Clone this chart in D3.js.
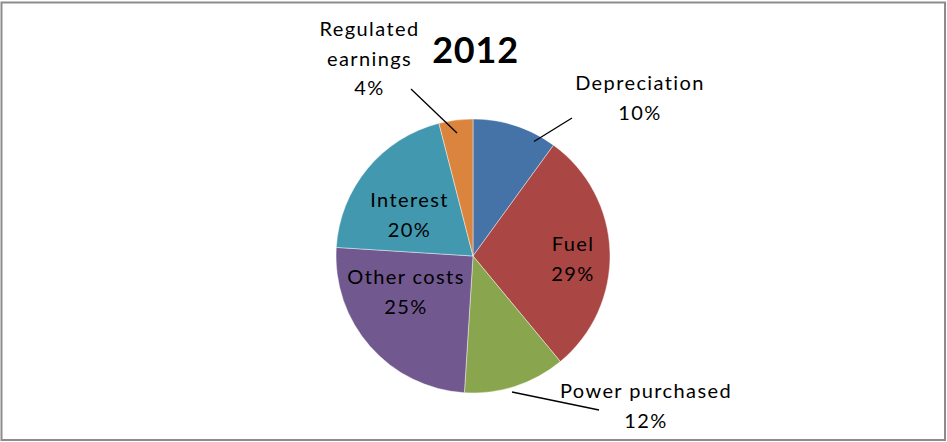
<!DOCTYPE html>
<html>
<head>
<meta charset="utf-8">
<script src="https://cdn.jsdelivr.net/npm/d3@7"></script>
<style>
  html, body { margin: 0; padding: 0; background: #fff; }
  svg { display: block; }
  .lbl { font-family: Lato, "Open Sans", sans-serif; font-size: 20px; fill: #000; letter-spacing: 1.4px; }
  .title { font-family: Lato, "Open Sans", sans-serif; font-size: 36px; font-weight: bold; fill: #000; letter-spacing: 0.8px; }
</style>
</head>
<body>
<script>
// Cost shares for 2012, clockwise from 12 o'clock
const categories = ["Depreciation", "Fuel", "Power purchased", "Other costs", "Interest", "Regulated earnings"];
const shares = [10, 29, 12, 25, 20, 4];
const sliceColors = ["#4572A7", "#AA4643", "#89A54E", "#71588F", "#4198AF", "#DB843D"];
const labelLines = [["Depreciation"], ["Fuel"], ["Power purchased"], ["Other costs"], ["Interest"], ["Regulated", "earnings"]];
const chartTitle = "2012";

// Label placement: text anchor offset from pie centre (px) and optional leader line
const labelLayout = [
  { dx: 167, dy: -166, leader: [[99, -138], [61, -114.5]] },
  { dx: 100, dy: -5 },
  { dx: 173, dy: 142, leader: [[39, 136], [126, 154]] },
  { dx: -67, dy: 28 },
  { dx: -63.5, dy: -49 },
  { dx: -103.5, dy: -220, leader: [[-62, -167], [-16, -123]] }
];

const W = 947, H = 442;
const cx = 473, cy = 256, R = 137;
const lineGap = 29.5;

const svg = d3.select("body").append("svg").attr("width", W).attr("height", H);

// chart frame
svg.append("rect")
  .attr("x", 1.5).attr("y", 2.5).attr("width", 943.5).attr("height", 437.5)
  .attr("fill", "#fff").attr("stroke", "#8c8c8c").attr("stroke-width", 2);

const data = categories.map((c, i) => ({ name: c, value: shares[i], i }));

const pie = d3.pie().value(d => d.value).sort(null).startAngle(0).endAngle(2 * Math.PI);
const arc = d3.arc().innerRadius(0).outerRadius(R);
const color = d3.scaleOrdinal().domain(categories).range(sliceColors);

const g = svg.append("g").attr("transform", `translate(${cx},${cy})`);

g.selectAll("path.slice")
  .data(pie(data))
  .join("path")
  .attr("class", "slice")
  .attr("d", arc)
  .attr("fill", d => color(d.data.name))
  .attr("stroke", "rgba(255,255,255,0.55)")
  .attr("stroke-width", 0.8);

// leader lines
g.selectAll("line.leader")
  .data(data.filter(d => labelLayout[d.i].leader))
  .join("line")
  .attr("class", "leader")
  .attr("x1", d => labelLayout[d.i].leader[0][0])
  .attr("y1", d => labelLayout[d.i].leader[0][1])
  .attr("x2", d => labelLayout[d.i].leader[1][0])
  .attr("y2", d => labelLayout[d.i].leader[1][1])
  .attr("stroke", "#000").attr("stroke-width", 1.3);

// labels: name line(s) and percentage
const fmt = d3.format(".0%");
const labels = g.selectAll("text.lbl")
  .data(data)
  .join("text")
  .attr("class", "lbl")
  .attr("text-anchor", "middle")
  .attr("x", d => labelLayout[d.i].dx)
  .attr("y", d => labelLayout[d.i].dy);

labels.each(function (d) {
  const t = d3.select(this);
  const lines = labelLines[d.i].concat([fmt(d.value / d3.sum(shares))]);
  lines.forEach((s, k) => {
    t.append("tspan")
      .attr("x", labelLayout[d.i].dx)
      .attr("y", labelLayout[d.i].dy + k * lineGap)
      .text(s);
  });
});

svg.append("text")
  .attr("class", "title")
  .attr("x", 475.5).attr("y", 63)
  .attr("text-anchor", "middle")
  .text(chartTitle);
</script>
</body>
</html>
